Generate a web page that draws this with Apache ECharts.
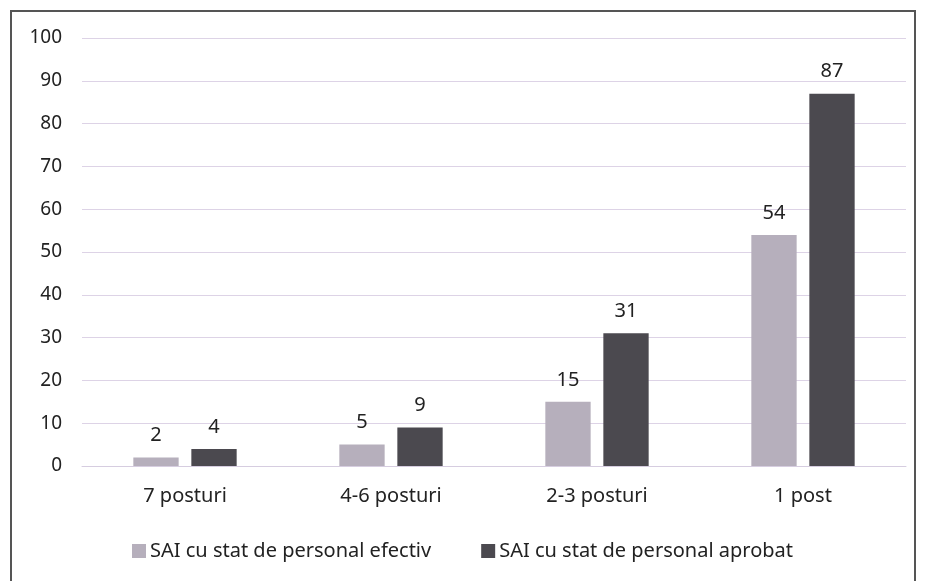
<!DOCTYPE html>
<html>
<head>
<meta charset="utf-8">
<script src="https://cdn.jsdelivr.net/npm/echarts@6/dist/echarts.min.js"></script>
<style>
  html, body { margin: 0; padding: 0; background: #fff; }
  #frame {
    position: absolute; left: 10px; top: 10px;
    width: 906px; height: 575px;
    border: 2px solid #555; border-bottom: none;
    box-sizing: border-box;
  }
  #chartDom { width: 925px; height: 581px; position: absolute; left: 0; top: 0; }
</style>
</head>
<body>
<div id="frame"></div>
<div id="chartDom"></div>
<script>
// categories and series values
const categories = ['7 posturi', '4-6 posturi', '2-3 posturi', '1 post'];
const efectiv = [2, 5, 15, 54];
const aprobat = [4, 9, 31, 87];
const seriesNames = ['SAI cu stat de personal efectiv', 'SAI cu stat de personal aprobat'];

const chart = echarts.init(document.getElementById('chartDom'));
const font = '"Noto Sans", "Open Sans", sans-serif';

const option = {
  animation: false,
  textStyle: { fontFamily: font },
  grid: { left: 82, right: 19, top: 38, bottom: 115, containLabel: false },
  legend: {
    top: 536,
    left: 'center',
    itemWidth: 14,
    itemHeight: 14,
    itemGap: 50,
    icon: 'rect',
    textStyle: { fontSize: 20, color: '#222', fontFamily: font, padding: [0, 0, 0, -1] },
    data: seriesNames
  },
  xAxis: {
    type: 'category',
    data: categories,
    axisTick: { show: false },
    axisLine: { show: true, lineStyle: { color: '#d6cde0', width: 1 } },
    axisLabel: { fontSize: 20, color: '#222', margin: 20, fontFamily: font }
  },
  yAxis: {
    type: 'value',
    min: 0,
    max: 100,
    interval: 10,
    axisLine: { show: false },
    axisTick: { show: false },
    axisLabel: { fontSize: 19, color: '#222', margin: 20, fontFamily: font },
    splitLine: { lineStyle: { color: '#ddd3e6', width: 1 } }
  },
  series: [
    {
      name: seriesNames[0],
      type: 'bar',
      data: efectiv,
      barWidth: '22%',
      barGap: '28%',
      itemStyle: { color: '#b6afbc' },
      label: { show: true, position: 'top', distance: 12, fontSize: 20, color: '#222', fontFamily: font }
    },
    {
      name: seriesNames[1],
      type: 'bar',
      data: aprobat,
      barWidth: '22%',
      itemStyle: { color: '#4b494f' },
      label: { show: true, position: 'top', distance: 12, fontSize: 20, color: '#222', fontFamily: font }
    }
  ]
};
chart.setOption(option);
</script>
</body>
</html>
